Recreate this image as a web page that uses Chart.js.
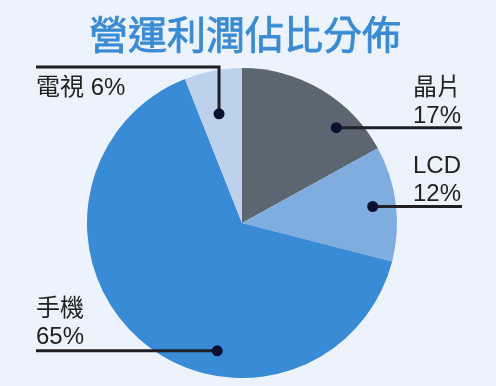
<!DOCTYPE html>
<html>
<head>
<meta charset="utf-8">
<script src="https://cdn.jsdelivr.net/npm/chart.js@4.4.0/dist/chart.umd.min.js"></script>
<style>
html, body { margin: 0; padding: 0; background: #edf3fc; }
canvas { display: block; }
</style>
</head>
<body>
<canvas id="profitChart" width="496" height="386"></canvas>
<script>
const chartTitle = '營運利潤佔比分佈';
const segments = ['晶片', 'LCD', '手機', '電視'];
const shares = [17, 12, 65, 6];
const colors = ['#5b6670', '#80ade0', '#3a8bd5', '#bdd1ed'];

// callout dot placement inside each slice (fraction along arc, fraction of radius) + where the line ends
const callouts = [
    { at: 0.73, r: 0.865, side: 'right', endX: 462 },
    { at: 0.5, r: 0.85, side: 'right', endX: 462 },
    { at: 0.37, r: 0.84, side: 'left', endX: 36 },
    { at: 0.45, r: 0.72, side: 'elbow', endX: 36, elbowY: 67 }
];

const labelFont = "24px 'Liberation Sans', 'Noto Sans CJK TC', sans-serif";

const calloutPlugin = {
    id: 'callouts',
    afterDraw(chart) {
        const ctx = chart.ctx;
        const arcs = chart.getDatasetMeta(0).data;

        ctx.save();
        // title (slight stroke to get a medium weight)
        ctx.font = "39px 'Noto Sans CJK TC', sans-serif";
        ctx.fillStyle = '#3a8bd3';
        ctx.strokeStyle = '#3a8bd3';
        ctx.lineWidth = 0.8;
        ctx.textAlign = 'center';
        ctx.textBaseline = 'middle';
        ctx.fillText(chartTitle, 245, 34);
        ctx.strokeText(chartTitle, 245, 34);

        ctx.font = labelFont;
        ctx.textBaseline = 'alphabetic';
        arcs.forEach((arc, i) => {
            const c = callouts[i];
            const a = arc.startAngle + (arc.endAngle - arc.startAngle) * c.at;
            const px = arc.x + Math.cos(a) * arc.outerRadius * c.r;
            const py = arc.y + Math.sin(a) * arc.outerRadius * c.r;
            const pct = shares[i] + '%';

            ctx.strokeStyle = '#1f1f26';
            ctx.lineWidth = 3;
            ctx.beginPath();
            ctx.moveTo(px, py);
            if (c.side === 'elbow') {
                ctx.lineTo(px, c.elbowY);
                ctx.lineTo(c.endX, c.elbowY);
            } else {
                ctx.lineTo(c.endX, py);
            }
            ctx.stroke();

            ctx.fillStyle = '#0b1030';
            ctx.beginPath();
            ctx.arc(px, py, 5.5, 0, Math.PI * 2);
            ctx.fill();

            ctx.fillStyle = '#222222';
            if (c.side === 'right') {
                ctx.textAlign = 'right';
                ctx.fillText(segments[i], c.endX - 1, py - 33);
                ctx.fillText(pct, c.endX - 1, py - 5);
            } else if (c.side === 'left') {
                ctx.textAlign = 'left';
                ctx.fillText(segments[i], c.endX, py - 35);
                ctx.fillText(pct, c.endX, py - 7);
            } else {
                ctx.textAlign = 'left';
                ctx.fillText(segments[i] + ' ' + pct, c.endX, c.elbowY + 28);
            }
        });
        ctx.restore();
    }
};

const ctx = document.getElementById('profitChart').getContext('2d');
new Chart(ctx, {
    type: 'pie',
    data: {
        labels: segments,
        datasets: [{
            data: shares,
            backgroundColor: colors,
            borderWidth: 0
        }]
    },
    options: {
        responsive: false,
        animation: false,
        layout: {
            padding: { top: 68, bottom: 8, left: 0, right: 12 }
        },
        plugins: {
            legend: { display: false },
            tooltip: { enabled: false }
        }
    },
    plugins: [calloutPlugin]
});
</script>
</body>
</html>
